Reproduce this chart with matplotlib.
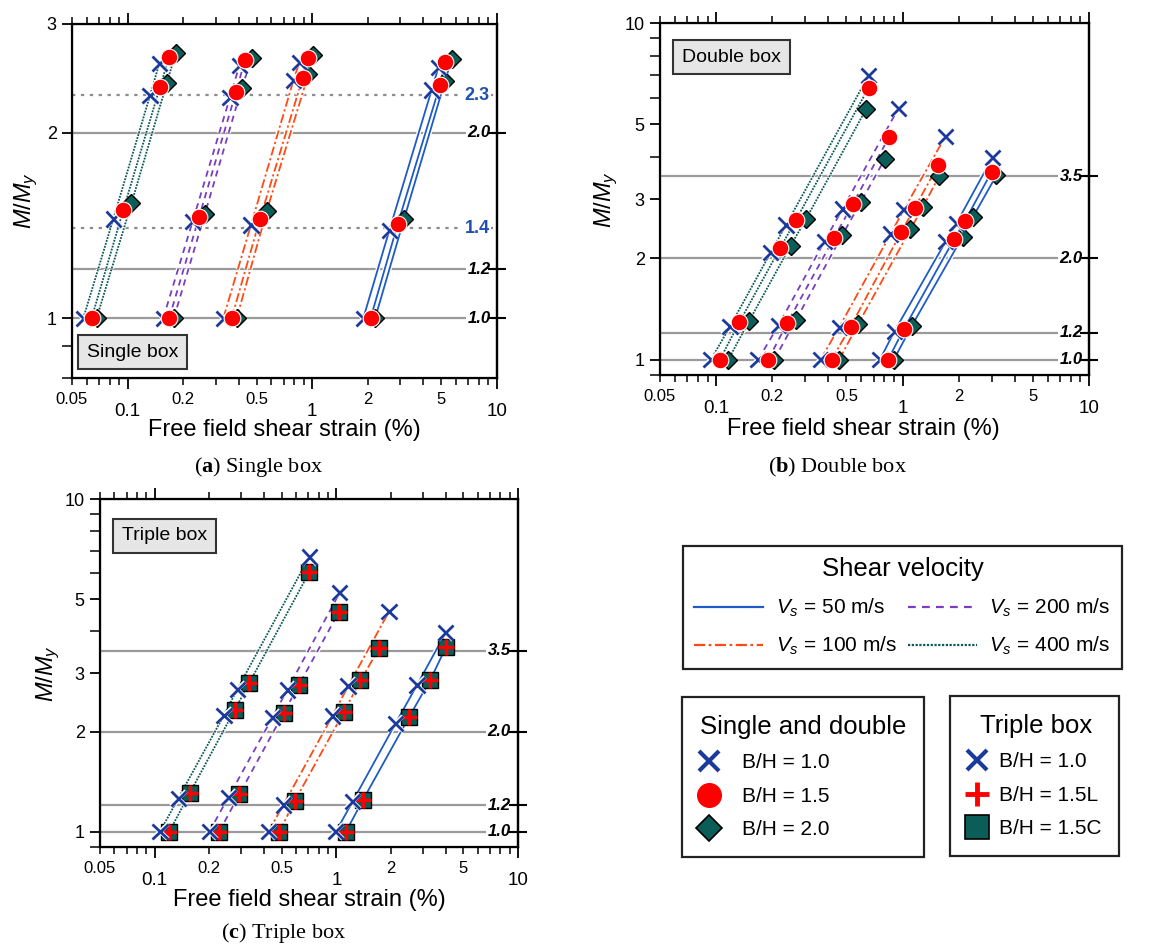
import matplotlib
matplotlib.use("Agg")
import matplotlib.pyplot as plt
import matplotlib.patheffects as pe
import matplotlib.transforms as mtransforms
from matplotlib.lines import Line2D
from matplotlib.ticker import FixedLocator, NullFormatter, NullLocator, FuncFormatter

plt.rcParams['font.family'] = ['Liberation Sans', 'DejaVu Sans']
plt.rcParams['mathtext.fontset'] = 'custom'
plt.rcParams['mathtext.rm'] = 'Liberation Sans'
plt.rcParams['mathtext.it'] = 'Liberation Sans:italic'
plt.rcParams['mathtext.bf'] = 'Liberation Serif:bold'

# shear velocities (m/s), one group of lines each
velocities = [50, 100, 200, 400]

# (a) single box -- rows follow velocities
a_bh10_x = [[1.89, 2.61, 4.43, 4.82], [0.330, 0.466, 0.790, 0.851],
            [0.156, 0.225, 0.3585, 0.403], [0.0576, 0.0837, 0.1323, 0.1486]]
a_bh10_y = [[1.0, 1.386, 2.345, 2.55], [1.0, 1.417, 2.428, 2.60],
            [1.0, 1.435, 2.28, 2.57], [1.0, 1.448, 2.296, 2.59]]
a_bh15_x = [[2.07, 2.90, 4.92, 5.24], [0.366, 0.521, 0.887, 0.952],
            [0.168, 0.244, 0.387, 0.432], [0.0639, 0.0948, 0.150, 0.168]]
a_bh15_y = [[1.0, 1.42, 2.39, 2.60], [1.0, 1.448, 2.453, 2.64],
            [1.0, 1.46, 2.33, 2.62], [1.0, 1.497, 2.375, 2.65]]
a_bh20_x = [[2.19, 3.14, 5.24, 5.69], [0.390, 0.566, 0.952, 1.01],
            [0.178, 0.262, 0.415, 0.47], [0.068, 0.105, 0.163, 0.182]]
a_bh20_y = [[1.0, 1.448, 2.428, 2.63], [1.0, 1.49, 2.485, 2.67],
            [1.0, 1.475, 2.36, 2.64], [1.0, 1.535, 2.404, 2.69]]

# (b) double box
b_bh10_x = [[0.756, 0.902, 1.70, 1.946, 3.03], [0.363, 0.457, 0.862, 1.016, 1.70],
            [0.168, 0.2154, 0.380, 0.476, 0.947], [0.0938, 0.1186, 0.196, 0.2368, 0.657]]
b_bh10_y = [[1.0, 1.21, 2.24, 2.54, 3.98], [1.0, 1.247, 2.36, 2.79, 4.61],
            [1.0, 1.261, 2.24, 2.80, 5.56], [1.0, 1.253, 2.08, 2.51, 6.98]]
b_bh15_x = [[0.837, 1.016, 1.89, 2.16, 3.0], [0.416, 0.526, 0.987, 1.164, 1.552],
            [0.1904, 0.2406, 0.430, 0.539, 0.848], [0.1048, 0.1331, 0.220, 0.268, 0.657]]
b_bh15_y = [[1.0, 1.233, 2.28, 2.58, 3.61], [1.0, 1.253, 2.40, 2.83, 3.78],
            [1.0, 1.284, 2.305, 2.89, 4.59], [1.0, 1.29, 2.14, 2.60, 6.42]]
b_bh20_x = [[0.898, 1.117, 2.10, 2.39, 3.19], [0.457, 0.578, 1.103, 1.29, 1.571],
            [0.205, 0.268, 0.476, 0.598, 0.804], [0.1162, 0.1506, 0.2507, 0.303, 0.636]]
b_bh20_y = [[1.0, 1.256, 2.32, 2.66, 3.53], [1.0, 1.276, 2.44, 2.85, 3.51],
            [1.0, 1.311, 2.35, 2.94, 3.95], [1.0, 1.305, 2.18, 2.61, 5.54]]

# (c) triple box (1.5L and 1.5C sit on the same points)
c_bh10_x = [[0.993, 1.227, 2.12, 2.78, 4.0], [0.422, 0.510, 0.952, 1.161, 1.95],
            [0.1997, 0.254, 0.446, 0.536, 1.045], [0.1069, 0.1348, 0.2405, 0.2846, 0.709]]
c_bh10_y = [[1.0, 1.231, 2.12, 2.76, 3.97], [1.0, 1.203, 2.23, 2.74, 4.59],
            [1.0, 1.268, 2.21, 2.67, 5.24], [1.0, 1.26, 2.24, 2.68, 6.69]]
c_bh15_x = [[1.128, 1.405, 2.51, 3.29, 4.0], [0.485, 0.591, 1.10, 1.358, 1.72],
            [0.2266, 0.292, 0.514, 0.622, 1.036], [0.1203, 0.1563, 0.2765, 0.3315, 0.709]]
c_bh15_y = [[1.0, 1.25, 2.21, 2.86, 3.58], [1.0, 1.24, 2.29, 2.85, 3.56],
            [1.0, 1.295, 2.28, 2.76, 4.59], [1.0, 1.31, 2.33, 2.80, 6.02]]

# reference levels
a_levels = [1.0, 1.2, 2.0]
a_dotted_levels = [1.4, 2.3]
bc_levels = [1.0, 1.2, 2.0, 3.5]

line_colors = ['#1f5bc6', '#ff4a14', '#7a3cc0', '#0b5a55']
line_styles = ['-', (0, (5, 1.6, 1.2, 1.6)), (0, (3.5, 2.8)), (0, (1, 0.7))]
navy = '#1b3a9c'
teal = '#0b5d57'
halo = [pe.Stroke(linewidth=3.2, foreground='white'), pe.Normal()]

fig = plt.figure(figsize=(11.53, 9.48), dpi=100)
ax_a = fig.add_axes([0.0624, 0.6013, 0.3686, 0.3734])
ax_b = fig.add_axes([0.5724, 0.6044, 0.3721, 0.3713])
ax_c = fig.add_axes([0.0867, 0.1065, 0.3626, 0.3671])


def x_label(v, pos):
    if v in (0.05, 0.2, 0.5, 2, 5):
        return ('%g' % v)
    return ''


def setup(ax, ylim, ymajor, yminor, levels, label_x):
    ax.set_xscale('log')
    ax.set_yscale('log')
    ax.set_xlim(0.05, 10)
    ax.set_ylim(*ylim)
    ax.xaxis.set_major_locator(FixedLocator([0.1, 1, 10]))
    ax.xaxis.set_major_formatter(FuncFormatter(lambda v, p: '%g' % v))
    ax.xaxis.set_minor_locator(FixedLocator([0.05, 0.06, 0.07, 0.08, 0.09,
                                             0.2, 0.3, 0.4, 0.5, 0.6, 0.7, 0.8, 0.9,
                                             2, 3, 4, 5, 6, 7, 8, 9]))
    ax.xaxis.set_minor_formatter(FuncFormatter(x_label))
    ax.yaxis.set_major_locator(FixedLocator(ymajor))
    ax.yaxis.set_major_formatter(FuncFormatter(lambda v, p: '%g' % v))
    ax.yaxis.set_minor_locator(FixedLocator(yminor))
    ax.yaxis.set_minor_formatter(NullFormatter())
    ax.tick_params(axis='x', which='major', labelsize=13.5, pad=10, length=8, width=1.3,
                   top=True, direction='out')
    ax.tick_params(axis='x', which='minor', labelsize=12, pad=5, length=5, width=1.1,
                   top=True, direction='out')
    ax.tick_params(axis='y', which='major', labelsize=13, length=7, width=1.3, pad=4)
    ax.tick_params(axis='y', which='minor', length=7, width=1.1)
    for s in ax.spines.values():
        s.set_linewidth(1.6)
    for lv in levels:
        ax.axhline(lv, color='#9a9a9a', lw=1.6, zorder=1)
    trans = mtransforms.blended_transform_factory(ax.transAxes, ax.transData)
    for lv in levels:
        ax.text(label_x, lv, '%.1f' % lv, transform=trans, ha='right', va='center',
                fontsize=12, fontweight='bold', fontstyle='italic', zorder=6,
                bbox=dict(facecolor='white', edgecolor='none', pad=1.0))
    ax2 = ax.twinx()
    ax2.set_yscale('log')
    ax2.set_ylim(*ylim)
    ax2.yaxis.set_major_locator(FixedLocator(levels))
    ax2.yaxis.set_minor_locator(NullLocator())
    ax2.tick_params(axis='y', direction='inout', length=13, width=1.5, labelright=False)
    ax2.spines['right'].set_linewidth(1.6)
    ax.set_xlabel('Free field shear strain (%)', fontsize=17)
    ax.set_ylabel(r'$\mathit{M/M}_y$', fontsize=17)
    return trans


def draw_lines(ax, xs, ys):
    for k in range(len(velocities)):
        ax.plot(xs[k], ys[k], color=line_colors[k], ls=line_styles[k], lw=1.3,
                zorder=2, path_effects=halo)


def box_label(ax, x, y, text):
    ax.text(x, y, text, transform=ax.transAxes, ha='center', va='center',
            fontsize=14, zorder=7,
            bbox=dict(boxstyle='square,pad=0.45', facecolor='#e6e6e6',
                      edgecolor='#333333', lw=1.5))


# ---- (a) single box
trans_a = setup(ax_a, (0.8, 3), [1, 2, 3], [0.8, 0.9], a_levels, 0.985)
for lv in a_dotted_levels:
    ax_a.axhline(lv, color='#8c8c8c', lw=1.6, ls=(0, (1.5, 2.5)), zorder=1)
    ax_a.text(0.983, lv, '%.1f' % lv, transform=trans_a, ha='right', va='center',
              fontsize=13, fontweight='bold', color='#1f4fb0', zorder=6,
              bbox=dict(facecolor='white', edgecolor='none', pad=1.0))
for xs, ys in [(a_bh10_x, a_bh10_y), (a_bh15_x, a_bh15_y), (a_bh20_x, a_bh20_y)]:
    draw_lines(ax_a, xs, ys)
for k in range(len(velocities)):
    ax_a.plot(a_bh20_x[k], a_bh20_y[k], ls='none', marker='D', ms=9, color=teal,
              mec='black', mew=1.0, zorder=3)
    ax_a.plot(a_bh10_x[k], a_bh10_y[k], ls='none', marker='x', ms=11, mew=2.0,
              color=navy, zorder=4, path_effects=halo)
    ax_a.plot(a_bh15_x[k], a_bh15_y[k], ls='none', marker='o', ms=12, color='red',
              mec='white', mew=0.8, zorder=5)
box_label(ax_a, 0.142, 0.073, 'Single box')
ax_a.yaxis.set_label_coords(-0.075, 0.5)
ax_a.xaxis.set_label_coords(0.5, -0.115)

# ---- (b) double box
setup(ax_b, (0.9, 10), [1, 2, 3, 5, 10], [0.9, 4, 6, 7, 8, 9], bc_levels, 0.985)
for xs, ys in [(b_bh10_x, b_bh10_y), (b_bh15_x, b_bh15_y), (b_bh20_x, b_bh20_y)]:
    draw_lines(ax_b, xs, ys)
for k in range(len(velocities)):
    ax_b.plot(b_bh20_x[k], b_bh20_y[k], ls='none', marker='D', ms=9, color=teal,
              mec='black', mew=1.0, zorder=3)
    ax_b.plot(b_bh10_x[k], b_bh10_y[k], ls='none', marker='x', ms=11, mew=2.0,
              color=navy, zorder=4, path_effects=halo)
    ax_b.plot(b_bh15_x[k], b_bh15_y[k], ls='none', marker='o', ms=12, color='red',
              mec='white', mew=0.8, zorder=5)
box_label(ax_b, 0.167, 0.903, 'Double box')
ax_b.yaxis.set_label_coords(-0.093, 0.5)
ax_b.xaxis.set_label_coords(0.473, -0.122)

# ---- (c) triple box
setup(ax_c, (0.9, 10), [1, 2, 3, 5, 10], [0.9, 4, 6, 7, 8, 9], bc_levels, 0.982)
for xs, ys in [(c_bh10_x, c_bh10_y), (c_bh15_x, c_bh15_y)]:
    draw_lines(ax_c, xs, ys)
for k in range(len(velocities)):
    ax_c.plot(c_bh15_x[k], c_bh15_y[k], ls='none', marker='s', ms=12, color=teal,
              mec='black', mew=1.0, zorder=3)
    ax_c.plot(c_bh15_x[k], c_bh15_y[k], ls='none', marker='+', ms=12, mew=2.5,
              color='red', zorder=4)
    ax_c.plot(c_bh10_x[k], c_bh10_y[k], ls='none', marker='x', ms=11, mew=2.0,
              color=navy, zorder=5, path_effects=halo)
box_label(ax_c, 0.154, 0.894, 'Triple box')
ax_c.yaxis.set_label_coords(-0.091, 0.5)
ax_c.xaxis.set_label_coords(0.501, -0.122)

# ---- captions
cap = dict(ha='center', va='center', fontsize=16, family='Liberation Serif')
fig.text(0.2245, 0.5074, r'($\mathbf{a}$) Single box', **cap)
fig.text(0.726, 0.5074, r'($\mathbf{b}$) Double box', **cap)
fig.text(0.2457, 0.0158, r'($\mathbf{c}$) Triple box', **cap)

# ---- legends
leg_kw = dict(loc='upper left', borderaxespad=0, title_fontsize=18.5, fontsize=15,
              fancybox=False, edgecolor='#222222', framealpha=1)

vs_handles = [Line2D([], [], color=line_colors[k], ls=line_styles[k], lw=1.6) for k in range(4)]
vs_labels = [r'$V_s$ = %d m/s' % v for v in velocities]
leg1 = fig.legend(vs_handles, vs_labels, bbox_to_anchor=(0.5924, 0.4241), ncol=2,
                  title='Shear velocity', handlelength=3.3, handletextpad=0.6,
                  columnspacing=0.55, labelspacing=0.75, borderpad=0.55, **leg_kw)
leg1.get_frame().set_linewidth(1.6)

sd_handles = [Line2D([], [], ls='none', marker='x', ms=15, mew=3, color=navy),
              Line2D([], [], ls='none', marker='o', ms=17, color='red'),
              Line2D([], [], ls='none', marker='D', ms=13, color=teal, mec='black', mew=1.2)]
sd_labels = ['B/H = 1.0', 'B/H = 1.5', 'B/H = 2.0']
leg2 = fig.legend(sd_handles, sd_labels, bbox_to_anchor=(0.5915, 0.2648),
                  title='Single and double', handlelength=0.9, handletextpad=1.15,
                  labelspacing=0.7, borderpad=0.85, alignment='left', **leg_kw)
leg2.get_frame().set_linewidth(1.6)

tb_handles = [Line2D([], [], ls='none', marker='x', ms=15, mew=3, color=navy),
              Line2D([], [], ls='none', marker='+', ms=17, mew=3.5, color='red'),
              Line2D([], [], ls='none', marker='s', ms=17, color=teal, mec='black', mew=1.2)]
tb_labels = ['B/H = 1.0', 'B/H = 1.5L', 'B/H = 1.5C']
leg3 = fig.legend(tb_handles, tb_labels, bbox_to_anchor=(0.8239, 0.2658),
                  title='Triple box', handlelength=0.9, handletextpad=0.6,
                  labelspacing=0.7, borderpad=0.85, alignment='left', **leg_kw)
leg3.get_frame().set_linewidth(1.6)
# nudge the title right so it sits centred over the entries
leg3.get_title().set_position((12, 0))

fig.savefig('out.png', dpi=100)
